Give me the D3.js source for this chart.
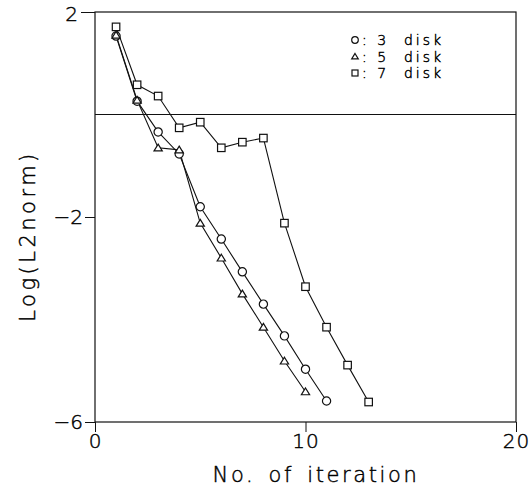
<!DOCTYPE html>
<html><head><meta charset="utf-8">
<script src="https://cdn.jsdelivr.net/npm/d3@7"></script>
<style>body{margin:0;background:#fff}svg{display:block}text{font-family:"DejaVu Sans",sans-serif;font-weight:200;fill:#000;stroke:#000;stroke-width:0.45px}</style>
</head><body><svg id="c" width="531" height="489"></svg>
<script>
const iterations3 = [1,2,3,4,5,6,7,8,9,10,11];
const disk3 = [1.53,0.26,-0.34,-0.77,-1.80,-2.43,-3.07,-3.70,-4.32,-4.97,-5.59];
const iterations5 = [1,2,3,4,5,6,7,8,9,10];
const disk5 = [1.55,0.28,-0.65,-0.69,-2.12,-2.80,-3.50,-4.15,-4.81,-5.41];
const iterations7 = [1,2,3,4,5,6,7,8,9,10,11,12,13];
const disk7 = [1.71,0.58,0.36,-0.26,-0.15,-0.65,-0.54,-0.46,-2.12,-3.36,-4.15,-4.89,-5.61];
const xTicks = [0,10,20];
const yTicks = [2,-2,-6];
const legendLabels = [": 3  disk", ": 5  disk", ": 7  disk"];

const svg = d3.select("#c");
const x = d3.scaleLinear().domain([0,20]).range([95,516]);
const y = d3.scaleLinear().domain([-6,2]).range([422,12]);
const ink = "#111";
const FONT = "'DejaVu Sans', sans-serif";

svg.append("rect").attr("x",x(0)).attr("y",y(2)).attr("width",x(20)-x(0)).attr("height",y(-6)-y(2))
  .attr("fill","none").attr("stroke",ink).attr("stroke-width",1.2);
svg.append("line").attr("x1",x(0)).attr("x2",x(20)).attr("y1",y(0)).attr("y2",y(0)).attr("stroke",ink).attr("stroke-width",1.2);

const xAxis = d3.axisBottom(x).tickValues(xTicks).tickSize(10).tickPadding(2).tickFormat(d3.format("d"));
const gx = svg.append("g").attr("transform",`translate(0,${y(-6)})`).call(xAxis);
gx.select(".domain").remove();
gx.selectAll("line").attr("stroke",ink);
gx.selectAll("text").attr("font-size",20).attr("fill","#000").attr("letter-spacing",1).style("font-family",FONT).style("font-weight",200);

const yAxis = d3.axisLeft(y).tickValues(yTicks).tickSize(10).tickPadding(2).tickFormat(d => d<0 ? "\u2212"+Math.abs(d) : d);
const gy = svg.append("g").attr("transform",`translate(${x(0)},0)`).call(yAxis);
gy.select(".domain").remove();
gy.selectAll("line").attr("stroke",ink);
gy.selectAll("text").attr("font-size",20).attr("fill","#000").style("font-family",FONT).style("font-weight",200);
gy.selectAll(".tick").filter(d=>d===2).select("line").attr("x2",-14);
gy.selectAll(".tick").filter(d=>d===2).select("text").attr("x",-17).attr("dy","0.42em");

svg.append("text").attr("x",316).attr("y",482).attr("text-anchor","middle").attr("font-size",21).attr("letter-spacing",2.6).attr("word-spacing",4).text("No. of iteration");
svg.append("text").attr("transform","translate(35,236) rotate(-90)").attr("text-anchor","middle").attr("font-size",21).attr("letter-spacing",3.5).text("Log(L2norm)");

const series = [
  {xs:iterations3, ys:disk3, shape:"circle"},
  {xs:iterations5, ys:disk5, shape:"triangle"},
  {xs:iterations7, ys:disk7, shape:"square"}
];
const line = d3.line().x(d=>x(d[0])).y(d=>y(d[1]));
function marker(g, shape, size){
  if(shape==="circle") g.append("circle").attr("r",size*0.55);
  else if(shape==="square") g.append("rect").attr("x",-size/2).attr("y",-size/2).attr("width",size).attr("height",size);
  else g.append("path").attr("d",`M0,${-size*0.5}L${size*0.55},${size*0.4}L${-size*0.55},${size*0.4}Z`);
  g.selectAll("*").attr("fill","#fff").attr("stroke",ink).attr("stroke-width",1.2);
}
series.forEach(s=>{
  const pts = s.xs.map((v,i)=>[v,s.ys[i]]);
  svg.append("path").datum(pts).attr("d",line).attr("fill","none").attr("stroke",ink).attr("stroke-width",1.1);
});
series.forEach(s=>{
  s.xs.forEach((v,i)=>{
    const g = svg.append("g").attr("transform",`translate(${x(v)},${y(s.ys[i])})`);
    marker(g, s.shape, 7.5);
  });
});

legendLabels.forEach((t,i)=>{
  const ly = 40 + i*16.5;
  const g = svg.append("g").attr("transform",`translate(355,${ly})`);
  marker(g, series[i].shape, 6);
  svg.append("text").attr("x",362).attr("y",ly+5).attr("font-size",14).attr("letter-spacing",3).attr("xml:space","preserve").text(t);
});
</script></body></html>
